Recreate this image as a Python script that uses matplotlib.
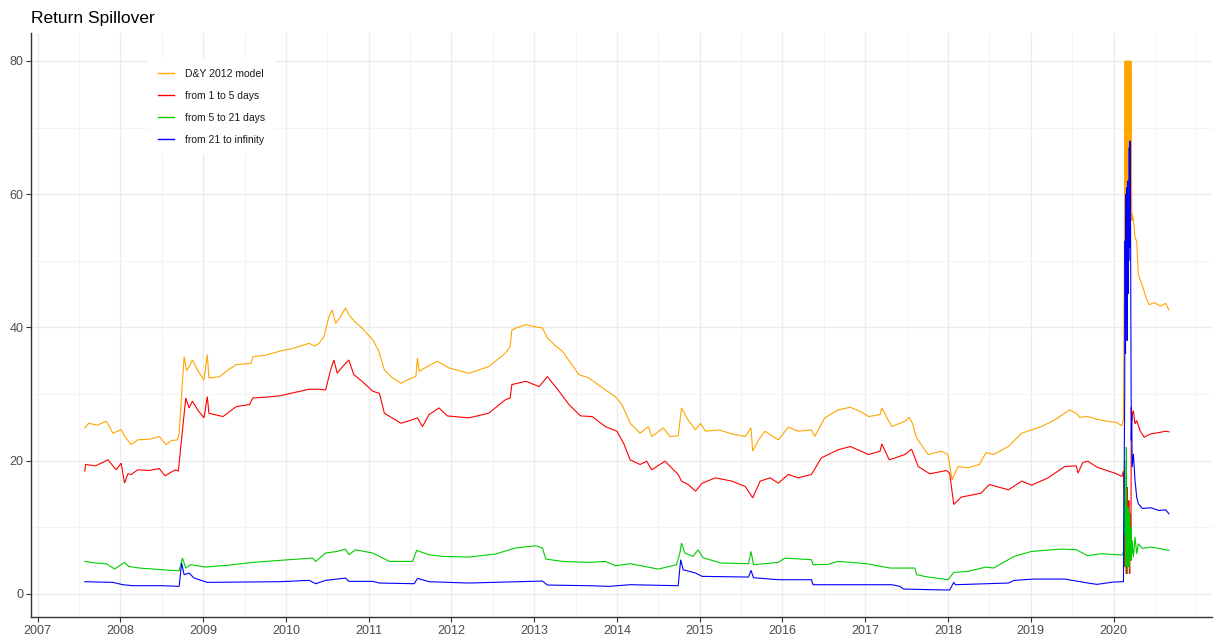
import matplotlib
matplotlib.use("Agg")
import matplotlib.pyplot as plt
from matplotlib.lines import Line2D
from matplotlib.ticker import MultipleLocator

plt.rcParams['font.family'] = ['Liberation Sans', 'DejaVu Sans']

# ---------------- data (decimal years) ----------------
spike_x = [2020.135, 2020.140, 2020.145, 2020.150, 2020.155, 2020.160, 2020.165,
           2020.170, 2020.175, 2020.180, 2020.185, 2020.190, 2020.195, 2020.200,
           2020.205, 2020.210, 2020.215, 2020.220, 2020.225]

dy_x = [2007.57, 2007.62, 2007.72, 2007.83, 2007.91, 2008.01, 2008.06, 2008.13, 2008.21,
        2008.35, 2008.47, 2008.55, 2008.62, 2008.69, 2008.71, 2008.74, 2008.77, 2008.80,
        2008.83, 2008.87, 2008.93, 2009.01, 2009.05, 2009.07, 2009.20, 2009.30, 2009.40,
        2009.58, 2009.60, 2009.75, 2009.92, 2010.10, 2010.28, 2010.35, 2010.40, 2010.46,
        2010.52, 2010.56, 2010.60, 2010.66, 2010.72, 2010.76, 2010.82, 2010.92, 2011.05,
        2011.12, 2011.19, 2011.28, 2011.39, 2011.50, 2011.57, 2011.59, 2011.61, 2011.72,
        2011.83, 2011.97, 2012.21, 2012.45, 2012.65, 2012.71, 2012.73, 2012.80, 2012.90,
        2013.00, 2013.10, 2013.16, 2013.25, 2013.34, 2013.45, 2013.54, 2013.66, 2013.76,
        2013.86, 2013.98, 2014.06, 2014.16, 2014.28, 2014.38, 2014.42, 2014.56, 2014.64,
        2014.74, 2014.78, 2014.86, 2014.95, 2015.01, 2015.07, 2015.23, 2015.39, 2015.55,
        2015.62, 2015.64, 2015.71, 2015.79, 2015.95, 2016.07, 2016.19, 2016.35, 2016.39,
        2016.51, 2016.67, 2016.82, 2016.95, 2017.04, 2017.18, 2017.20, 2017.32, 2017.48,
        2017.53, 2017.57, 2017.62, 2017.76, 2017.92, 2018.00, 2018.05, 2018.12, 2018.24,
        2018.38, 2018.46, 2018.55, 2018.73, 2018.89, 2019.13, 2019.29, 2019.47, 2019.55,
        2019.59, 2019.69, 2019.80, 2019.92, 2020.04, 2020.10, 2020.12] + spike_x + [
        2020.24, 2020.26, 2020.28, 2020.30, 2020.35, 2020.39, 2020.43, 2020.49, 2020.57,
        2020.63, 2020.67]
dy_y = [24.9, 25.6, 25.3, 25.9, 24.1, 24.6, 23.5, 22.4, 23.1,
        23.2, 23.6, 22.4, 23.0, 23.1, 24.1, 30.0, 35.6, 33.5,
        34.1, 35.1, 33.6, 32.1, 35.9, 32.4, 32.6, 33.6, 34.4,
        34.6, 35.6, 35.8, 36.4, 36.9, 37.6, 37.2, 37.6, 38.6,
        41.6, 42.6, 40.6, 41.6, 42.9, 41.9, 41.0, 39.9, 38.1,
        36.5, 33.6, 32.5, 31.6, 32.3, 32.6, 35.4, 33.4, 34.2,
        34.9, 33.9, 33.1, 34.1, 36.1, 37.1, 39.6, 40.0, 40.4,
        40.1, 39.9, 38.4, 37.3, 36.4, 34.5, 32.9, 32.4, 31.5,
        30.6, 29.6, 28.4, 25.6, 24.1, 25.1, 23.6, 24.9, 23.6,
        23.7, 27.9, 26.1, 24.6, 25.6, 24.4, 24.6, 24.0, 23.6,
        24.9, 21.4, 23.1, 24.4, 23.1, 25.0, 24.4, 24.6, 23.6,
        26.4, 27.6, 28.0, 27.3, 26.6, 26.9, 27.9, 25.1, 25.9,
        26.5, 25.6, 23.4, 20.9, 21.4, 20.9, 17.1, 19.1, 18.9,
        19.4, 21.2, 20.9, 22.1, 24.1, 25.1, 26.1, 27.6, 27.1,
        26.5, 26.6, 26.2, 25.9, 25.7, 25.2, 26.2] + [
        60, 80, 56, 80, 80, 45, 80, 80, 58, 80, 80, 62, 80, 80, 56, 80, 70, 56, 57] + [
        56.2, 53.5, 52.9, 47.9, 46.2, 44.6, 43.4, 43.7, 43.2, 43.6, 42.6]

short_x = [2007.57, 2007.58, 2007.70, 2007.85, 2007.95, 2008.01, 2008.05, 2008.09, 2008.13,
           2008.21, 2008.35, 2008.47, 2008.54, 2008.62, 2008.67, 2008.70, 2008.75, 2008.79,
           2008.83, 2008.87, 2008.94, 2009.01, 2009.05, 2009.07, 2009.24, 2009.40, 2009.56,
           2009.60, 2009.75, 2009.92, 2010.10, 2010.28, 2010.40, 2010.48, 2010.54, 2010.58,
           2010.62, 2010.67, 2010.76, 2010.82, 2010.92, 2011.05, 2011.13, 2011.19, 2011.39,
           2011.50, 2011.59, 2011.65, 2011.73, 2011.85, 2011.95, 2012.21, 2012.45, 2012.65,
           2012.71, 2012.73, 2012.90, 2013.06, 2013.16, 2013.30, 2013.42, 2013.56, 2013.70,
           2013.86, 2014.00, 2014.08, 2014.16, 2014.28, 2014.36, 2014.42, 2014.58, 2014.74,
           2014.78, 2014.86, 2014.95, 2015.03, 2015.19, 2015.39, 2015.55, 2015.64, 2015.73,
           2015.85, 2015.95, 2016.07, 2016.19, 2016.35, 2016.47, 2016.67, 2016.82, 2017.04,
           2017.18, 2017.20, 2017.29, 2017.48, 2017.56, 2017.64, 2017.78, 2017.98, 2018.02,
           2018.07, 2018.16, 2018.40, 2018.50, 2018.73, 2018.89, 2019.01, 2019.21, 2019.41,
           2019.55, 2019.57, 2019.63, 2019.69, 2019.80, 2019.92, 2020.04, 2020.10, 2020.12] + spike_x + [
           2020.24, 2020.26, 2020.28, 2020.32, 2020.37, 2020.45, 2020.55, 2020.63, 2020.67]
short_y = [18.4, 19.4, 19.2, 20.1, 18.6, 19.6, 16.6, 18.0, 17.9,
           18.6, 18.5, 18.8, 17.7, 18.3, 18.6, 18.4, 24.6, 29.4,
           27.9, 28.9, 27.5, 26.4, 29.6, 27.1, 26.6, 28.1, 28.4,
           29.4, 29.5, 29.7, 30.2, 30.7, 30.7, 30.6, 33.6, 35.1,
           33.1, 33.9, 35.1, 32.9, 31.9, 30.4, 30.1, 27.1, 25.6,
           26.0, 26.4, 25.1, 26.9, 27.9, 26.7, 26.4, 27.1, 29.1,
           29.4, 31.4, 31.9, 31.1, 32.6, 30.4, 28.4, 26.7, 26.6,
           25.1, 24.4, 22.6, 20.1, 19.4, 19.9, 18.6, 19.9, 17.9,
           16.9, 16.4, 15.4, 16.6, 17.4, 16.9, 16.1, 14.4, 16.9,
           17.4, 16.6, 17.9, 17.4, 17.9, 20.4, 21.6, 22.1, 20.9,
           21.4, 22.5, 20.1, 20.9, 21.7, 19.1, 18.0, 18.5, 18.1,
           13.4, 14.5, 15.1, 16.4, 15.6, 16.9, 16.3, 17.4, 19.1,
           19.2, 18.1, 19.7, 19.9, 19.0, 18.5, 18.0, 17.6, 18.4] + [
           10, 4, 12, 6, 3, 11, 16, 5, 9, 4, 14, 7, 3, 8, 12, 5, 28, 26, 27] + [
           27.5, 25.5, 26.0, 24.5, 23.5, 24.0, 24.2, 24.4, 24.3]

medium_x = [2007.57, 2007.70, 2007.83, 2007.93, 2008.05, 2008.10, 2008.23, 2008.40, 2008.60,
            2008.71, 2008.75, 2008.79, 2008.85, 2009.03, 2009.32, 2009.60, 2009.92, 2010.32,
            2010.36, 2010.48, 2010.62, 2010.72, 2010.76, 2010.84, 2011.05, 2011.25, 2011.53,
            2011.58, 2011.73, 2011.89, 2012.21, 2012.53, 2012.77, 2013.02, 2013.10, 2013.14,
            2013.34, 2013.66, 2013.86, 2013.98, 2014.16, 2014.50, 2014.72, 2014.76, 2014.78,
            2014.82, 2014.92, 2014.98, 2015.04, 2015.26, 2015.59, 2015.62, 2015.65, 2015.95,
            2016.03, 2016.35, 2016.37, 2016.55, 2016.67, 2017.02, 2017.30, 2017.60, 2017.62,
            2017.76, 2018.00, 2018.07, 2018.24, 2018.46, 2018.55, 2018.80, 2019.01, 2019.37,
            2019.55, 2019.69, 2019.85, 2020.10, 2020.12] + spike_x + [
            2020.24, 2020.26, 2020.28, 2020.30, 2020.35, 2020.45, 2020.55, 2020.67]
medium_y = [4.85, 4.6, 4.5, 3.7, 4.7, 4.1, 3.85, 3.7, 3.5,
            3.45, 5.35, 3.85, 4.35, 4.0, 4.3, 4.7, 5.0, 5.35,
            4.85, 6.1, 6.35, 6.7, 5.85, 6.6, 6.1, 4.85, 4.85,
            6.5, 5.85, 5.6, 5.5, 5.95, 6.85, 7.2, 6.85, 5.2,
            4.85, 4.7, 4.85, 4.2, 4.5, 3.7, 4.35, 6.1, 7.6,
            6.1, 5.6, 6.6, 5.4, 4.6, 4.5, 6.35, 4.35, 4.7,
            5.35, 5.1, 4.35, 4.4, 4.85, 4.5, 3.85, 3.85, 2.85,
            2.5, 2.1, 3.2, 3.35, 4.0, 3.85, 5.6, 6.35, 6.7,
            6.6, 5.7, 6.0, 5.8, 6.2] + [
            20, 9, 14, 4, 22, 8, 11, 3, 13, 6, 9, 4, 12, 7, 8, 5, 10, 6, 8] + [
            5.5, 8.5, 6.0, 7.5, 6.8, 7.0, 6.8, 6.5]

long_x = [2007.57, 2007.91, 2008.03, 2008.15, 2008.51, 2008.71, 2008.74, 2008.77, 2008.83,
          2008.89, 2009.05, 2009.92, 2010.28, 2010.36, 2010.48, 2010.62, 2010.72, 2010.76,
          2011.05, 2011.13, 2011.55, 2011.59, 2011.73, 2012.21, 2013.10, 2013.16, 2013.66,
          2013.90, 2014.16, 2014.74, 2014.77, 2014.80, 2014.95, 2015.03, 2015.59, 2015.62,
          2015.65, 2015.95, 2016.35, 2016.37, 2016.90, 2017.32, 2017.42, 2017.46, 2017.80,
          2018.02, 2018.07, 2018.09, 2018.73, 2018.80, 2019.04, 2019.41, 2019.69, 2019.80,
          2020.00, 2020.12] + spike_x + [
          2020.24, 2020.26, 2020.28, 2020.30, 2020.35, 2020.45, 2020.55, 2020.63, 2020.67]
long_y = [1.8, 1.7, 1.35, 1.2, 1.2, 1.1, 4.6, 2.85, 3.1,
          2.35, 1.7, 1.8, 2.0, 1.5, 2.0, 2.2, 2.35, 1.85,
          1.85, 1.6, 1.5, 2.3, 1.8, 1.6, 1.9, 1.3, 1.2,
          1.1, 1.35, 1.2, 5.1, 3.6, 3.1, 2.6, 2.5, 3.5,
          2.4, 2.1, 2.1, 1.35, 1.35, 1.35, 1.1, 0.7, 0.6,
          0.55, 1.7, 1.35, 1.6, 2.0, 2.2, 2.2, 1.6, 1.4,
          1.75, 1.8] + [
          30, 53, 36, 60, 42, 61, 38, 62, 45, 58, 50, 67, 52, 68, 60, 40, 23, 27, 19] + [
          21, 17, 14.5, 13.5, 12.8, 12.9, 12.5, 12.6, 12.0]

labels = ["D&Y 2012 model", "from 1 to 5 days", "from 5 to 21 days", "from 21 to infinity"]
colors = ["#FFA500", "#FF0000", "#00CD00", "#0000FF"]
year_ticks = [2007, 2008, 2009, 2010, 2011, 2012, 2013, 2014, 2015, 2016, 2017, 2018, 2019, 2020]
y_ticks = [0, 20, 40, 60, 80]

# ---------------- figure ----------------
fig = plt.figure(figsize=(12.18, 6.38), dpi=100)
ax = fig.add_axes([31 / 1218, 21 / 638, 1181 / 1218, 584 / 638])

series = [(dy_x, dy_y), (short_x, short_y), (medium_x, medium_y), (long_x, long_y)]
for (xs, ys), c in zip(series, colors):
    ax.plot(xs, ys, color=c, lw=0.8, solid_joinstyle='miter')

ax.set_xlim(2006.92, 2021.19)
ax.set_ylim(-3.5, 84.2)
ax.set_xticks(year_ticks)
ax.set_xticklabels([str(y) for y in year_ticks])
ax.set_yticks(y_ticks)
ax.xaxis.set_minor_locator(MultipleLocator(0.5))
ax.yaxis.set_minor_locator(MultipleLocator(10))

ax.grid(which='major', color='#EBEBEB', lw=1.0)
ax.grid(which='minor', color='#F2F2F2', lw=0.6)
ax.set_axisbelow(True)

for s in ['top', 'right']:
    ax.spines[s].set_visible(False)
for s in ['left', 'bottom']:
    ax.spines[s].set_color('#333333')
    ax.spines[s].set_linewidth(1.0)
ax.tick_params(axis='both', which='major', length=3.5, width=0.8, color='#333333',
               labelsize=9, labelcolor='#4D4D4D', pad=2)
ax.tick_params(axis='both', which='minor', length=0)

fig.text(31 / 1218, 1 - 18 / 638, "Return Spillover", fontsize=12.5, ha='left', va='center',
         color='black')

handles = [Line2D([0], [0], color=c, lw=1.0) for c in colors]
leg = ax.legend(handles, labels, loc='upper left', bbox_to_anchor=(0.099, 0.956),
                fontsize=7.5, frameon=True, facecolor='white', edgecolor='none',
                framealpha=1, handlelength=1.6, handletextpad=1.0, labelspacing=1.15,
                borderpad=0.95, borderaxespad=0, fancybox=False)
for t in leg.get_texts():
    t.set_color('#1A1A1A')

fig.savefig("out.png", dpi=100, facecolor='white')
